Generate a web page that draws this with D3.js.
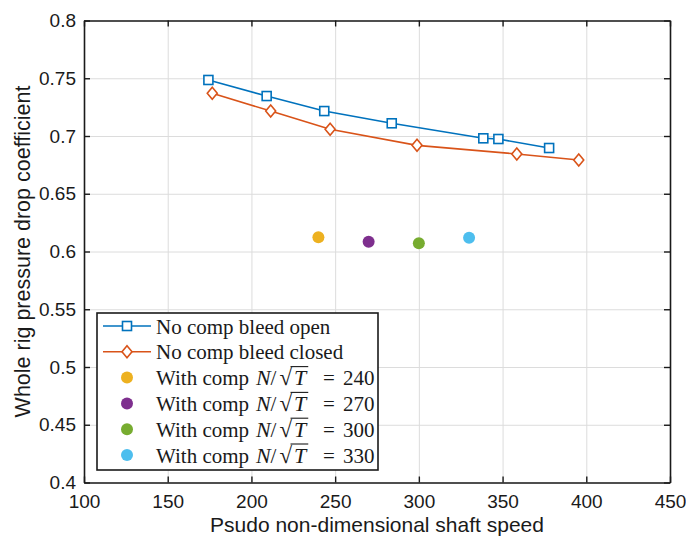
<!DOCTYPE html>
<html>
<head>
<meta charset="utf-8">
<script src="https://cdn.jsdelivr.net/npm/d3@7"></script>
<style>
  html, body { margin: 0; padding: 0; background: #fff; }
  svg { display: block; }
</style>
</head>
<body>
<svg id="chart" width="686" height="538"></svg>
<script>
// Bleed-open baseline (no compressor)
const openSpeed = [174.3, 209.1, 243.5, 283.8, 338.5, 347.5, 377.8];
const openCoef  = [0.7485, 0.7346, 0.7216, 0.7110, 0.6980, 0.6974, 0.6896];

// Bleed-closed baseline (no compressor)
const closedSpeed = [176.6, 211.5, 247.0, 298.9, 358.5, 395.5];
const closedCoef  = [0.7370, 0.7216, 0.7058, 0.6919, 0.6844, 0.6792];

// Runs with the compressor fitted, one per corrected speed N/sqrt(T)
const compSpeed = [240, 270, 300, 330];
const compCoef  = [0.6123, 0.6085, 0.6071, 0.6120];
const compColors = ["#EDB120", "#7E2F8E", "#77AC30", "#4DBEEE"];

// Axis ticks and labels
const xTicks = [100, 150, 200, 250, 300, 350, 400, 450];
const yTicks = [0.4, 0.45, 0.5, 0.55, 0.6, 0.65, 0.7, 0.75, 0.8];
const xLabel = "Psudo non-dimensional shaft speed";
const yLabel = "Whole rig pressure drop coefficient";
const seriesNames = ["No comp bleed open", "No comp bleed closed"];

const blue = "#0072BD", red = "#D95319";
const sans = "'Liberation Sans', Arial, sans-serif";
const serif = "'Liberation Serif', 'Times New Roman', serif";

const svg = d3.select("#chart");
const pL = 84, pR = 670, pT = 20.5, pB = 482.5;
const W = pR - pL, H = pB - pT;

const x = d3.scaleLinear().domain([100, 450]).range([pL, pR]);
const y = d3.scaleLinear().domain([0.4, 0.8]).range([pB, pT]);

// Grid
const grid = svg.append("g").attr("class", "grid");
grid.append("g").attr("transform", `translate(0,${pB})`)
  .call(d3.axisBottom(x).tickValues(xTicks).tickSize(-H).tickFormat(""))
  .call(g => g.select(".domain").remove())
  .call(g => g.selectAll("line").attr("stroke", "#dcdcdc").attr("stroke-width", 1));
grid.append("g").attr("transform", `translate(${pL},0)`)
  .call(d3.axisLeft(y).tickValues(yTicks).tickSize(-W).tickFormat(""))
  .call(g => g.select(".domain").remove())
  .call(g => g.selectAll("line").attr("stroke", "#dcdcdc").attr("stroke-width", 1));

// Axes with inward ticks on all four sides
const fmtY = d => String(+d.toFixed(2));
function styleAxis(g) {
  g.select(".domain").attr("stroke", "#1a1a1a").attr("stroke-width", 1.6);
  g.selectAll(".tick line").attr("stroke", "#1a1a1a").attr("stroke-width", 1.4);
  g.selectAll("text").attr("fill", "#1a1a1a").style("font-family", sans).style("font-size", "19px");
}
svg.append("g").attr("transform", `translate(0,${pB})`)
  .call(d3.axisBottom(x).tickValues(xTicks).tickSize(-6).tickSizeOuter(0).tickPadding(12.5).tickFormat(d3.format("d")))
  .call(styleAxis);
svg.append("g").attr("transform", `translate(${pL},0)`)
  .call(d3.axisLeft(y).tickValues(yTicks).tickSize(-6).tickSizeOuter(0).tickPadding(8).tickFormat(fmtY))
  .call(styleAxis);
svg.append("g").attr("transform", `translate(0,${pT})`)
  .call(d3.axisTop(x).tickValues(xTicks).tickSize(-6).tickSizeOuter(0).tickFormat(""))
  .call(styleAxis);
svg.append("g").attr("transform", `translate(${pR},0)`)
  .call(d3.axisRight(y).tickValues(yTicks).tickSize(-6).tickSizeOuter(0).tickFormat(""))
  .call(styleAxis);

// Axis titles
svg.append("text")
  .attr("x", (pL + pR) / 2).attr("y", 531.5)
  .attr("text-anchor", "middle")
  .style("font-family", sans).style("font-size", "21px").attr("fill", "#1a1a1a")
  .text(xLabel);
svg.append("text")
  .attr("transform", `translate(30,${(pT + pB) / 2}) rotate(-90)`)
  .attr("text-anchor", "middle")
  .style("font-family", sans).style("font-size", "21.5px").attr("fill", "#1a1a1a")
  .text(yLabel);

// Marker shapes
function square(g, cx, cy, color) {
  g.append("rect").attr("x", cx - 4.5).attr("y", cy - 4.5).attr("width", 9).attr("height", 9)
    .attr("fill", "#fff").attr("stroke", color).attr("stroke-width", 1.6);
}
function diamond(g, cx, cy, color) {
  g.append("path").attr("d", `M${cx},${cy - 6}L${cx + 5},${cy}L${cx},${cy + 6}L${cx - 5},${cy}Z`)
    .attr("fill", "#fff").attr("stroke", color).attr("stroke-width", 1.6);
}

// Baseline curves
const line = d3.line().x(d => x(d[0])).y(d => y(d[1]));
const openPts = openSpeed.map((s, i) => [s, openCoef[i]]);
const closedPts = closedSpeed.map((s, i) => [s, closedCoef[i]]);
const marks = svg.append("g");
marks.append("path").attr("d", line(openPts)).attr("fill", "none").attr("stroke", blue).attr("stroke-width", 1.6);
marks.append("path").attr("d", line(closedPts)).attr("fill", "none").attr("stroke", red).attr("stroke-width", 1.6);
openPts.forEach(p => square(marks, x(p[0]), y(p[1]), blue));
closedPts.forEach(p => diamond(marks, x(p[0]), y(p[1]), red));

// Compressor points
compSpeed.forEach((s, i) => {
  marks.append("circle").attr("cx", x(s)).attr("cy", y(compCoef[i])).attr("r", 6)
    .attr("fill", compColors[i]);
});

// Legend
const lg = svg.append("g");
lg.append("rect").attr("x", 97).attr("y", 313).attr("width", 281).attr("height", 157)
  .attr("fill", "#fff").attr("stroke", "#1a1a1a").attr("stroke-width", 1.6);
const rowY = i => 326 + i * 25.8;
const sx0 = 103, sx1 = 151, scx = 127, tx = 156, fs = 21;

function legendText(i) {
  return lg.append("text").attr("x", tx).attr("y", rowY(i) + 7.5)
    .style("font-family", serif).style("font-size", fs + "px").attr("fill", "#1a1a1a");
}

[blue, red].forEach((c, i) => {
  lg.append("line").attr("x1", sx0).attr("x2", sx1).attr("y1", rowY(i)).attr("y2", rowY(i))
    .attr("stroke", c).attr("stroke-width", 1.6);
  if (i === 0) square(lg, scx, rowY(i), c); else diamond(lg, scx, rowY(i), c);
  legendText(i).text(seriesNames[i]);
});

// Math-style label pieces, laid out with TeX-like spacing
compSpeed.forEach((s, k) => {
  const i = k + 2;
  lg.append("circle").attr("cx", scx).attr("cy", rowY(i)).attr("r", 6).attr("fill", compColors[k]);
  const t = legendText(i);
  t.append("tspan").text("With comp");
  t.append("tspan").attr("x", tx + 100).style("font-style", "italic").style("font-size", "22px").text("N");
  t.append("tspan").attr("x", tx + 114.5).text("/");
  t.append("tspan").attr("x", tx + 123.5).style("font-size", "23px").text("\u221A");
  t.append("tspan").attr("x", tx + 138).style("font-style", "italic").style("font-size", "22px").text("T");
  t.append("tspan").attr("x", tx + 167).text("=");
  t.append("tspan").attr("x", tx + 187).text(String(s));
  // vinculum over T
  const node = t.node();
  const iSq = node.textContent.indexOf("\u221A");
  const a = node.getExtentOfChar(iSq);
  const b = node.getExtentOfChar(iSq + 1);
  const vy = rowY(i) + 7.5 - 18.5;
  lg.append("line").attr("x1", a.x + a.width - 1.6).attr("x2", b.x + b.width + 2)
    .attr("y1", vy).attr("y2", vy).attr("stroke", "#1a1a1a").attr("stroke-width", 1.1);
});
</script>
</body>
</html>
